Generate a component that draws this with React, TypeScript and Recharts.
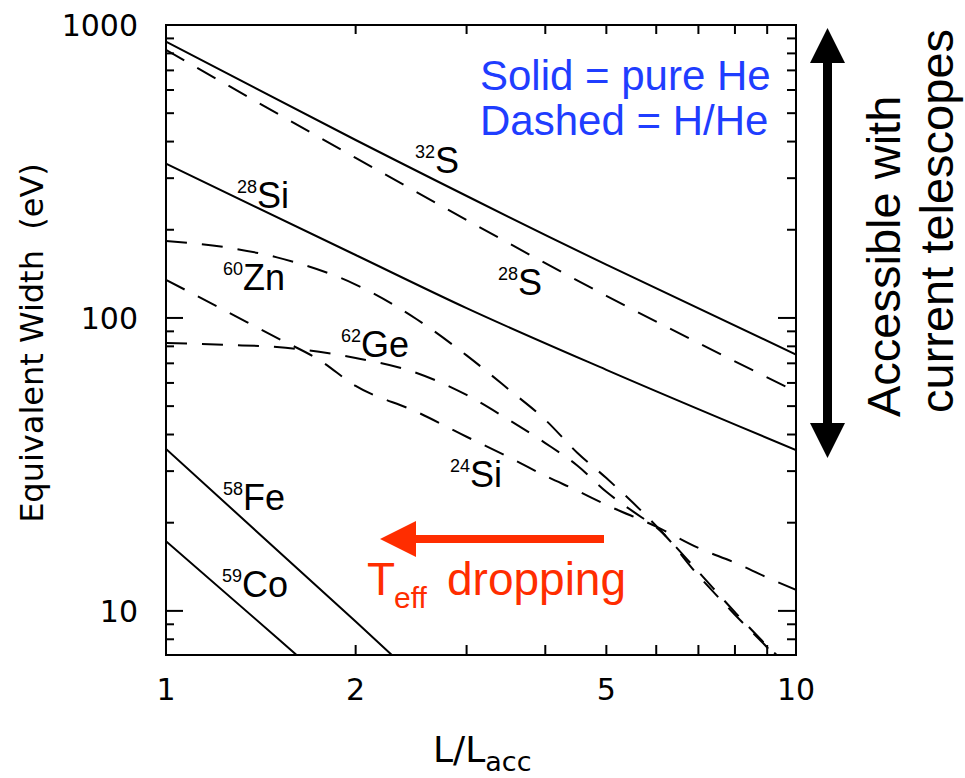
import { LineChart, Line, XAxis, YAxis } from 'recharts'

// L/L_acc sample points and equivalent widths (eV)
const xS32 = [1, 2, 5, 10]
const ewS32 = [877, 405, 152, 75]
const xS28 = [1, 2, 5, 10]
const ewS28 = [822, 352, 119, 56]
const xSi28 = [1, 2, 3, 5, 10]
const ewSi28 = [336, 164, 108, 66.5, 35.4]
const xZn60 = [1, 1.25, 1.5, 2, 2.5, 3, 3.5, 4, 4.5, 5, 5.7, 6, 7, 8, 9, 9.5]
const ewZn60 = [183, 174, 161, 130, 99, 74.5, 57, 44.9, 34.6, 28.4, 21.8, 19.5, 13.6, 9.9, 7.6, 6.8]
const xGe62 = [1, 1.25, 1.5, 1.75, 2, 2.5, 3, 3.5, 4, 4.5, 5, 5.7, 6, 7, 8, 9, 9.5]
const ewGe62 = [82.2, 80.9, 79.6, 76.6, 73, 64.9, 54.6, 44.9, 37.4, 31.3, 25.5, 20.8, 19.3, 13.2, 9.7, 7.5, 6.6]
const xSi24 = [1, 1.25, 1.5, 1.75, 2, 2.5, 3, 3.5, 4, 4.5, 5, 6, 7, 8, 9, 10]
const ewSi24 = [135, 105, 85.5, 71.9, 58.6, 47.8, 39.3, 33.5, 28.9, 25.7, 23.0, 19.4, 16.4, 14.6, 13.0, 11.8]
const xFe58 = [1, 2, 2.4]
const ewFe58 = [35.7, 9.2, 6.4]
const xCo59 = [1, 1.5, 1.75]
const ewCo59 = [17.3, 8.1, 6.05]

const xTicks = [1, 2, 3, 4, 5, 6, 7, 8, 9, 10]
const xLabels = [1, 2, 5, 10]
const yTicks = [8, 9, 10, 20, 30, 40, 50, 60, 70, 80, 90, 100, 200, 300, 400, 500, 600, 700, 800, 900, 1000]

const pts = (xs: number[], ys: number[]) => xs.map((x, i) => ({ x, y: ys[i] }))

const series = [
  { name: '32S', data: pts(xS32, ewS32), dashed: false },
  { name: '28S', data: pts(xS28, ewS28), dashed: true },
  { name: '28Si', data: pts(xSi28, ewSi28), dashed: false },
  { name: '60Zn', data: pts(xZn60, ewZn60), dashed: true },
  { name: '62Ge', data: pts(xGe62, ewGe62), dashed: true },
  { name: '24Si', data: pts(xSi24, ewSi24), dashed: true },
  { name: '58Fe', data: pts(xFe58, ewFe58), dashed: false },
  { name: '59Co', data: pts(xCo59, ewCo59), dashed: false },
]

const AXIS_FONT = 'DejaVu Sans, sans-serif'
const LABEL_FONT = 'Liberation Sans, Arial, sans-serif'
const isMajor = (v: number) => Math.abs(Math.log10(v) - Math.round(Math.log10(v))) < 1e-6

function LeftTick({ x, y, payload }: any) {
  const major = isMajor(payload.value)
  return (
    <g>
      <line x1={x} x2={x + (major ? 17 : 8)} y1={y} y2={y} stroke="#000" strokeWidth={2} />
      {major && (
        <text x={x - 28} y={y + 11} textAnchor="end" fontFamily={AXIS_FONT} fontSize={30} fill="#000">
          {payload.value}
        </text>
      )}
    </g>
  )
}

function RightTick({ x, y, payload }: any) {
  const major = isMajor(payload.value)
  return <line x1={x} x2={x - (major ? 18 : 9)} y1={y} y2={y} stroke="#000" strokeWidth={2} />
}

function BottomTick({ x, y, payload }: any) {
  return (
    <g>
      <line x1={x} x2={x} y1={y} y2={y - 10} stroke="#000" strokeWidth={2} />
      {xLabels.includes(payload.value) && (
        <text x={x} y={y + 45} textAnchor="middle" fontFamily={AXIS_FONT} fontSize={30} fill="#000">
          {payload.value}
        </text>
      )}
    </g>
  )
}

function TopTick({ x, y }: any) {
  return <line x1={x} x2={x} y1={y} y2={y + 9} stroke="#000" strokeWidth={2} />
}

function Iso({ x, y, mass, sym }: { x: number; y: number; mass: string; sym: string }) {
  return (
    <text x={x} y={y} fontFamily={LABEL_FONT} fill="#000">
      <tspan fontSize={18} dy={-15}>{mass}</tspan>
      <tspan fontSize={36} dy={15}>{sym}</tspan>
    </text>
  )
}

const axisLine = { stroke: '#000', strokeWidth: 2, strokeLinecap: 'square' as const }

export default function App() {
  return (
    <div style={{ position: 'absolute', left: 0, top: 0, width: 965, height: 778, background: '#fff' }}>
      <LineChart width={965} height={778} margin={{ top: 15, right: 149, bottom: 83, left: 106 }}>
        <XAxis
          xAxisId="bottom"
          dataKey="x"
          type="number"
          scale="log"
          domain={[1, 10]}
          ticks={xTicks}
          interval={0}
          allowDataOverflow
          height={40}
          tickSize={0}
          tickMargin={0}
          tickLine={false}
          axisLine={axisLine}
          tick={BottomTick}
        />
        <XAxis
          xAxisId="top"
          orientation="top"
          dataKey="x"
          type="number"
          scale="log"
          domain={[1, 10]}
          ticks={xTicks}
          interval={0}
          allowDataOverflow
          height={10}
          tickSize={0}
          tickMargin={0}
          tickLine={false}
          axisLine={axisLine}
          tick={TopTick}
        />
        <YAxis
          yAxisId="left"
          type="number"
          scale="log"
          domain={[7.07, 1000]}
          ticks={yTicks}
          interval={0}
          allowDataOverflow
          width={60}
          tickSize={0}
          tickMargin={0}
          tickLine={false}
          axisLine={axisLine}
          tick={LeftTick}
        />
        <YAxis
          yAxisId="right"
          orientation="right"
          type="number"
          scale="log"
          domain={[7.07, 1000]}
          ticks={yTicks}
          interval={0}
          allowDataOverflow
          width={20}
          tickSize={0}
          tickMargin={0}
          tickLine={false}
          axisLine={axisLine}
          tick={RightTick}
        />
        {series.map((s) => (
          <Line
            key={s.name}
            xAxisId="bottom"
            yAxisId="left"
            data={s.data}
            dataKey="y"
            type="monotone"
            stroke="#000"
            strokeWidth={2}
            strokeDasharray={s.dashed ? '21 15' : undefined}
            dot={false}
            activeDot={false}
            isAnimationActive={false}
          />
        ))}
      </LineChart>

      <svg
        width={965}
        height={778}
        style={{ position: 'absolute', left: 0, top: 0, pointerEvents: 'none' }}
      >
        {/* axis titles */}
        <text
          transform="translate(43, 343) rotate(-90)"
          textAnchor="middle"
          fontFamily={AXIS_FONT}
          fontSize={32}
          fill="#000"
        >
          Equivalent Width{'\u00a0'} (eV)
        </text>
        <text x={433} y={762} fontFamily={AXIS_FONT} fill="#000">
          <tspan fontSize={36}>L/L</tspan>
          <tspan fontSize={27} dy={9}>acc</tspan>
        </text>

        {/* legend text */}
        <text x={480} y={90} fontFamily={LABEL_FONT} fontSize={42} fill="#1f3dff">
          Solid = pure He
        </text>
        <text x={480} y={135} fontFamily={LABEL_FONT} fontSize={42} fill="#1f3dff">
          Dashed = H/He
        </text>

        {/* isotope labels */}
        <Iso x={415} y={173} mass="32" sym="S" />
        <Iso x={237} y={208} mass="28" sym="Si" />
        <Iso x={223} y={290} mass="60" sym="Zn" />
        <Iso x={498} y={295} mass="28" sym="S" />
        <Iso x={341} y={357} mass="62" sym="Ge" />
        <Iso x={450} y={487} mass="24" sym="Si" />
        <Iso x={223} y={510} mass="58" sym="Fe" />
        <Iso x={222} y={597} mass="59" sym="Co" />

        {/* T_eff arrow */}
        <rect x={410} y={535} width={194} height={8} fill="#ff2d00" />
        <polygon points="380,539 416,521 416,557" fill="#ff2d00" />
        <text x={367} y={595} fontFamily={LABEL_FONT} fontSize={46} fill="#ff2d00">
          T
        </text>
        <text x={394} y={608} fontFamily={LABEL_FONT} fontSize={30} fill="#ff2d00">
          eff
        </text>
        <text x={447} y={595} fontFamily={LABEL_FONT} fontSize={46} fill="#ff2d00">
          dropping
        </text>

        {/* accessibility double arrow */}
        <rect x={823} y={60} width={9} height={366} fill="#000" />
        <polygon points="827.5,28 810,63 845,63" fill="#000" />
        <polygon points="827.5,458 810,423 845,423" fill="#000" />
        <text transform="translate(900, 417) rotate(-90)" fontFamily={LABEL_FONT} fontSize={47} fill="#000">
          Accessible with
        </text>
        <text transform="translate(953, 413) rotate(-90)" fontFamily={LABEL_FONT} fontSize={47} fill="#000">
          current telescopes
        </text>
      </svg>
    </div>
  )
}
